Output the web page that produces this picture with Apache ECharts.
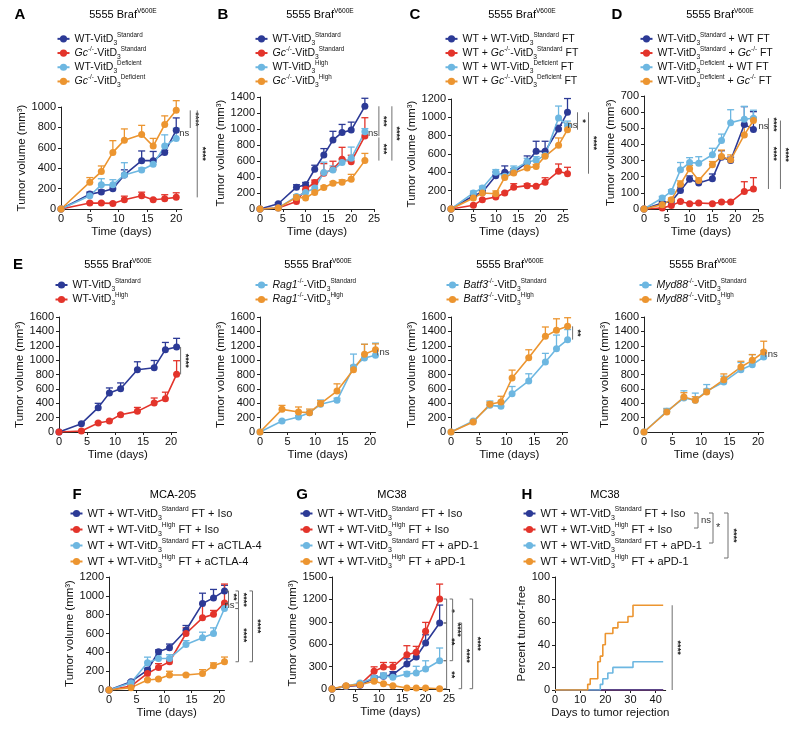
<!DOCTYPE html>
<html><head><meta charset="utf-8">
<script src="https://cdn.jsdelivr.net/npm/echarts@6/dist/echarts.min.js"></script>
<style>html,body{margin:0;padding:0;background:#fff}#c{width:800px;height:731px}</style>
</head><body><div id="c"></div>
<script>
// ---------- DATA ----------
// Panel A
const aDays = [0,5,7,9,11,14,16,18,20];
const aWtStd = [0,146,166,198,334,474,474,555,773];
const aWtStdErr = [0,20,20,30,50,95,90,20,120];
const aGcStd = [0,58,58,55,91,130,91,100,114];
const aGcStdErr = [0,8,8,8,35,35,8,40,45];
const aWtDef = [0,130,237,237,334,383,438,617,692];
const aWtDefErr = [0,15,60,50,120,20,20,110,100];
const aGcDef = [0,263,367,555,675,730,617,828,967];
const aGcDefErr = [0,45,55,115,110,90,75,85,95];
// Panel B
const bDays = [0,4,8,10,12,14,16,18,20,23];
const bWtStd = [0,66,273,302,497,675,861,957,986,1284];
const bWtStdErr = [0,10,30,30,50,80,110,100,100,100];
const bGcStd = [0,12,95,248,331,447,497,621,592,911];
const bGcStdErr = [0,5,20,40,30,120,100,150,80,230];
const bWtHigh = [0,12,157,207,261,456,489,580,634,965];
const bWtHighErr = [0,5,20,30,40,130,50,50,140,40];
const bGcHigh = [0,12,145,137,207,269,323,335,373,605];
const bGcHighErr = [0,5,30,20,20,20,20,30,60,90];
// Panel C
const cDays = [0,5,7,10,12,14,17,19,21,24,26];
const cWtStd = [0,145,182,364,400,400,509,629,629,873,1055];
const cWtStdErr = [0,20,20,40,70,40,70,110,110,40,150];
const cGcStd = [0,40,102,131,175,236,255,247,291,411,385];
const cGcStdErr = [0,8,8,10,10,40,20,10,50,80,70];
const cWtDef = [0,175,229,400,356,429,513,531,585,993,909];
const cWtDefErr = [0,20,20,30,30,40,40,40,40,130,50];
const cGcDef = [0,120,175,167,345,393,447,465,575,695,865];
const cGcDefErr = [0,10,10,30,20,20,20,20,20,80,70];
// Panel D
const dDays = [0,4,6,8,10,12,15,17,19,22,24];
const dStdWt = [0,37,47,115,185,161,187,321,301,524,493];
const dStdWtErr = [0,10,10,20,20,15,30,40,20,110,110];
const dStdGc = [0,6,21,47,33,37,33,43,43,109,124];
const dStdGcErr = [0,3,3,5,5,5,5,5,5,60,70];
const dDefWt = [0,68,109,243,288,284,336,424,535,556,562];
const dDefWtErr = [0,10,10,45,30,40,40,40,80,80,50];
const dDefGc = [0,27,58,154,249,177,274,325,305,459,548];
const dDefGcErr = [0,10,10,20,20,15,20,40,30,60,20];
// Panel E (four sub-panels)
const eDays = [0,4,7,9,11,14,17,19,21];
const e1WtStd = [0,116,339,543,603,867,895,1146,1183];
const e1WtStdErr = [0,10,60,70,80,110,100,100,120];
const e1WtHigh = [0,14,125,153,241,287,403,464,802];
const e1WtHighErr = [0,5,10,10,15,55,70,90,190];
const e2Std = [0,153,209,269,385,441,904,1030,1067];
const e2StdErr = [0,5,20,20,60,30,180,190,170];
const e2High = [0,315,278,269,394,570,867,1081,1146];
const e2HighErr = [0,55,70,50,40,100,60,140,80];
const e3Std = [0,153,371,357,533,710,974,1159,1285];
const e3StdErr = [0,10,60,60,100,100,120,190,140];
const e3High = [0,139,385,417,751,1034,1331,1415,1470];
const e3HighErr = [0,10,30,80,110,110,130,160,120];
const e4Std = [0,288,473,441,570,696,867,937,1043];
const e4StdErr = [0,40,100,100,90,80,100,140,90];
const e4High = [0,278,487,441,557,728,904,997,1113];
const e4HighErr = [0,40,60,50,40,80,80,80,150];
// Panel F
const fDays = [0,4,7,9,11,14,17,19,21];
const fStdIso = [0,88,212,406,448,635,918,978,1052];
const fStdIsoErr = [0,10,20,20,40,50,110,90,60];
const fHighIso = [0,42,176,240,300,600,766,805,925];
const fHighIsoErr = [0,10,30,40,20,60,150,40,200];
const fStdCtla = [0,78,289,335,335,484,554,600,865];
const fStdCtlaErr = [0,10,60,40,40,40,60,60,40];
const fHighCtla = [0,25,106,116,159,159,176,258,300];
const fHighCtlaErr = [0,10,10,10,40,10,40,30,50];
// Panel G
const gDays = [0,3,6,9,11,13,16,18,20,23];
const gStdIso = [0,36,49,147,170,192,335,429,616,884];
const gStdIsoErr = [0,5,10,30,40,40,70,70,110,240];
const gHighIso = [0,36,58,237,295,295,460,491,772,1205];
const gHighIsoErr = [0,5,10,60,60,60,120,80,120,200];
const gStdPd1 = [0,36,80,147,179,156,201,214,268,379];
const gStdPd1Err = [0,5,10,30,30,30,30,90,110,170];
const gHighPd1 = [0,45,58,103,71,45,13,13,13,4];
const gHighPd1Err = [0,5,5,10,10,5,3,3,3,3];
// Panel H (percent tumor-free, step curves)
const hStdIsoDays = [0,43];
const hStdIsoPct = [0,0];
const hHighIsoDays = [0,43];
const hHighIsoPct = [0,0];
const hStdPd1Days = [0,18,19,21,23,31,43];
const hStdPd1Pct = [0,5,10,15,20,25,25];
const hHighPd1Days = [0,13,14,17,18,19,20,23,25,29,31,43];
const hHighPd1Pct = [0,5,10,25,30,40,50,55,60,65,75,75];
// tick labels
const xTicks20 = [0,5,10,15,20];
const xTicks25 = [0,5,10,15,20,25];
const xTicks40 = [0,10,20,30,40];
// significance annotations: [x, yTop, yBottom, label]
const aSig = [[20,967,794,'****'],[20,745,745,'ns'],[20,967,114,'****']];
const bSig = [[23,1284,911,'***'],[23,895,605,'***'],[23,1284,605,'****'],[23,945,945,'ns']];
const cSig = [[26,1055,865,'*'],[26,916,916,'ns'],[26,1055,385,'****']];
const dSig = [[24,562,486,'****'],[24,512,512,'ns'],[24,560,124,'****'],[24,548,124,'****']];
const e1Sig = [[21,1183,802,'****']];
const e2Sig = [[21,1146,1067,'ns']];
const e3Sig = [[21,1470,1285,'**']];
const e4Sig = [[21,1113,1043,'ns']];
const fSig = [[21,1052,925,'**'],[21,925,865,'ns'],[21,1052,865,'****'],[21,865,300,'****'],[21,1052,300,'****']];
const gSig = [[23,1205,884,'*'],[23,1205,379,'****'],[23,884,379,'**'],[23,379,4,'**'],[23,884,4,'****'],[23,1205,4,'****']];
const hSig = [[43,75,0,'****']];
// text
const WTV = q => `{n|WT-VitD}{s|3}{p|${q}}`;
const KOV = (g, q) => `{i|${g}}{p|-/-}{n|-VitD}{s|3}{p|${q}}`;
const aLabels = [WTV('Standard'), KOV('Gc','Standard'), WTV('Deficient'), KOV('Gc','Deficient')];
const bLabels = [WTV('Standard'), KOV('Gc','Standard'), WTV('High'), KOV('Gc','High')];
const cLabels = ['{n|WT + }'+WTV('Standard')+'{n| FT}', '{n|WT + }'+KOV('Gc','Standard')+'{n| FT}', '{n|WT + }'+WTV('Deficient')+'{n| FT}', '{n|WT + }'+KOV('Gc','Deficient')+'{n| FT}'];
const dLabels = [WTV('Standard')+'{n| + WT FT}', WTV('Standard')+'{n| + }{i|Gc}{p|-/-}{n| FT}', WTV('Deficient')+'{n| + WT FT}', WTV('Deficient')+'{n| + }{i|Gc}{p|-/-}{n| FT}'];
const e1Labels = [WTV('Standard'), WTV('High')];
const e2Labels = [KOV('Rag1','Standard'), KOV('Rag1','High')];
const e3Labels = [KOV('Batf3','Standard'), KOV('Batf3','High')];
const e4Labels = [KOV('Myd88','Standard'), KOV('Myd88','High')];
const fLabels = ['{n|WT + }'+WTV('Standard')+'{n| FT + Iso}', '{n|WT + }'+WTV('High')+'{n| FT + Iso}', '{n|WT + }'+WTV('Standard')+'{n| FT + aCTLA-4}', '{n|WT + }'+WTV('High')+'{n| FT + aCTLA-4}'];
const gLabels = ['{n|WT + }'+WTV('Standard')+'{n| FT + Iso}', '{n|WT + }'+WTV('High')+'{n| FT + Iso}', '{n|WT + }'+WTV('Standard')+'{n| FT + aPD-1}', '{n|WT + }'+WTV('High')+'{n| FT + aPD-1}'];
const hLabels = gLabels;
const BRAF = '{t|5555 Braf}{p|V600E}';

// ---------- STYLE / LAYOUT ----------
const FONT = "'Liberation Sans', Arial, Helvetica, sans-serif";
const COL = {dark:'#2c3a96', red:'#e3342b', light:'#6db7e1', orange:'#ec9530'};
const AX = '#222';
const VOL = 'Tumor volume (mm³)';
function rich(fs, lh) {
  return {
    n:{fontSize:fs, fontFamily:FONT, color:'#111', lineHeight:lh},
    i:{fontSize:fs, fontFamily:FONT, color:'#111', fontStyle:'italic', lineHeight:lh},
    s:{fontSize:fs*0.64, fontFamily:FONT, color:'#111', lineHeight:6, height:6, verticalAlign:'bottom'},
    p:{fontSize:fs*0.6, fontFamily:FONT, color:'#111', lineHeight:6, height:6, verticalAlign:'top'},
    t:{fontSize:fs, fontFamily:FONT, color:'#111', lineHeight:lh}
  };
}
const PANELS = [
  {id:'A', g:[61,107,121,102], xMax:21, xt:xTicks20, yMax:1000, yInt:200, yGap:30, yName:VOL, xName:'Time (days)', lg:[56.5,32,13.7,10.5], labels:aLabels,
   ser:[[aDays,aWtStd,aWtStdErr,'dark'],[aDays,aGcStd,aGcStdErr,'red'],[aDays,aWtDef,aWtDefErr,'light'],[aDays,aGcDef,aGcDefErr,'orange']],
   sig:aSig, sigDx:[14,3,21], sigMode:[0,2,0]},
  {id:'B', g:[260,97,114,112], xMax:25, xt:xTicks25, yMax:1400, yInt:200, yGap:29, yName:VOL, xName:'Time (days)', lg:[254.5,32,13.7,10.5], labels:bLabels,
   ser:[[bDays,bWtStd,bWtStdErr,'dark'],[bDays,bGcStd,bGcStdErr,'red'],[bDays,bWtHigh,bWtHighErr,'light'],[bDays,bGcHigh,bGcHighErr,'orange']],
   sig:bSig, sigDx:[14,14,27,3], sigMode:[0,0,0,2]},
  {id:'C', g:[451,99,116.5,110], xMax:26, xt:xTicks25, yMax:1200, yInt:200, yGap:30, yName:VOL, xName:'Time (days)', lg:[444.5,32,13.7,10.5], labels:cLabels,
   ser:[[cDays,cWtStd,cWtStdErr,'dark'],[cDays,cGcStd,cGcStdErr,'red'],[cDays,cWtDef,cWtDefErr,'light'],[cDays,cGcDef,cGcDefErr,'orange']],
   sig:cSig, sigDx:[10,0,21], sigMode:[0,2,0]},
  {id:'D', g:[644,96,114,113], xMax:25, xt:xTicks25, yMax:700, yInt:100, yGap:25, yName:VOL, xName:'Time (days)', lg:[639.5,32,13.7,10.5], labels:dLabels,
   ser:[[dDays,dStdWt,dStdWtErr,'dark'],[dDays,dStdGc,dStdGcErr,'red'],[dDays,dDefWt,dDefWtErr,'light'],[dDays,dDefGc,dDefGcErr,'orange']],
   sig:dSig, sigDx:[15,5,15,27], sigMode:[0,2,0,0]},
  {id:'E1', g:[59,317,117.6,115], xMax:21, xt:xTicks20, yMax:1600, yInt:200, yGap:27, yName:VOL, xName:'Time (days)', lg:[54.5,278,14,10.5], labels:e1Labels,
   ser:[[eDays,e1WtStd,e1WtStdErr,'dark'],[eDays,e1WtHigh,e1WtHighErr,'red']], sig:e1Sig, sigDx:[4], sigMode:[0]},
  {id:'E2', g:[260,317,115.5,115], xMax:21, xt:xTicks20, yMax:1600, yInt:200, yGap:31, yName:VOL, xName:'Time (days)', lg:[254.5,278,14,10.5], labels:e2Labels,
   ser:[[eDays,e2Std,e2StdErr,'light'],[eDays,e2High,e2HighErr,'orange']], sig:e2Sig, sigDx:[2], sigMode:[3]},
  {id:'E3', g:[451,317,116.6,115], xMax:21, xt:xTicks20, yMax:1600, yInt:200, yGap:32, yName:VOL, xName:'Time (days)', lg:[445.5,278,14,10.5], labels:e3Labels,
   ser:[[eDays,e3Std,e3StdErr,'light'],[eDays,e3High,e3HighErr,'orange']], sig:e3Sig, sigDx:[5], sigMode:[0]},
  {id:'E4', g:[644,317,119.7,115], xMax:21, xt:xTicks20, yMax:1600, yInt:200, yGap:26, yName:VOL, xName:'Time (days)', lg:[638.5,278,14,10.5], labels:e4Labels,
   ser:[[eDays,e4Std,e4StdErr,'light'],[eDays,e4High,e4HighErr,'orange']], sig:e4Sig, sigDx:[2], sigMode:[3]},
  {id:'F', g:[109,577,115.5,113], xMax:21, xt:xTicks20, yMax:1200, yInt:200, yGap:30, yName:VOL, xName:'Time (days)', lg:[69.5,505.5,15,11], labels:fLabels,
   ser:[[fDays,fStdIso,fStdIsoErr,'dark'],[fDays,fHighIso,fHighIsoErr,'red'],[fDays,fStdCtla,fStdCtlaErr,'light'],[fDays,fHighCtla,fHighCtlaErr,'orange']],
   sig:fSig, sigDx:[4,14,14,14,28], sigMode:[1,4,1,1,1]},
  {id:'G', g:[332,577,117,112], xMax:25, xt:xTicks25, yMax:1500, yInt:300, yGap:29, yName:VOL, xName:'Time (days)', lg:[299.5,505.5,15,11], labels:gLabels,
   ser:[[gDays,gStdIso,gStdIsoErr,'dark'],[gDays,gHighIso,gHighIsoErr,'red'],[gDays,gStdPd1,gStdPd1Err,'light'],[gDays,gHighPd1,gHighPd1Err,'orange']],
   sig:gSig, sigDx:[7,13,7,7,22,33], sigMode:[1,1,1,1,1,1]},
  {id:'H', g:[555,577,110.7,113], xMax:44, xt:xTicks40, yMax:100, yInt:20, yGap:22, yName:'Percent tumor-free', xName:'Days to tumor rejection', lg:[522.5,505.5,15,11], labels:hLabels,
   step:[[hStdIsoDays,hStdIsoPct,'dark'],[hHighIsoDays,hHighIsoPct,'red'],[hStdPd1Days,hStdPd1Pct,'light'],[hHighPd1Days,hHighPd1Pct,'orange']],
   drawOrder:[1,0,2,3], sig:hSig, sigDx:[9], sigMode:[0]}
];

// ---------- RENDER HELPERS ----------
function errRender(color) {
  return function (params, api) {
    const x = api.value(0), y = api.value(1), e = api.value(2);
    if (!(e > 0)) return {type:'group', children:[]};
    const a = api.coord([x, y]), b = api.coord([x, y + e]);
    return {type:'group', children:[
      {type:'line', shape:{x1:a[0], y1:a[1], x2:b[0], y2:b[1]}, style:{stroke:color, lineWidth:1.3}},
      {type:'line', shape:{x1:b[0]-3.5, y1:b[1], x2:b[0]+3.5, y2:b[1]}, style:{stroke:color, lineWidth:1.3}}
    ]};
  };
}
function sigRender(list, dxs, modes) {
  return function (params, api) {
    const s = list[params.dataIndex];
    const dx = dxs[params.dataIndex], mode = modes[params.dataIndex];
    const p1 = api.coord([s[0], s[1]]), p2 = api.coord([s[0], s[2]]);
    const lx = p1[0] + dx, my = (p1[1] + p2[1]) / 2;
    const st = {stroke:'#707070', lineWidth:1};
    const ch = [];
    if (mode !== 2) {
      ch.push({type:'line', shape:{x1:lx, y1:p1[1], x2:lx, y2:p2[1]}, style:st});
      if (mode === 1 || mode === 4) {
        ch.push({type:'line', shape:{x1:lx-3, y1:p1[1], x2:lx, y2:p1[1]}, style:st});
        ch.push({type:'line', shape:{x1:lx-3, y1:p2[1], x2:lx, y2:p2[1]}, style:st});
      }
    }
    if (mode === 0 || mode === 1) {
      ch.push({type:'text', x:lx + 5, y:my, rotation:-Math.PI/2,
        style:{text:s[3], align:'center', verticalAlign:'middle', fontSize:9, fontWeight:'bold', fontFamily:FONT, fill:'#222'}});
    } else if (mode === 2 || mode === 3) {
      ch.push({type:'text', x:lx + (mode === 3 ? 2 : 0), y:my,
        style:{text:s[3], align:'left', verticalAlign:'middle', fontSize:9.5, fontFamily:FONT, fill:'#333'}});
    } else if (mode === 4) {
      ch.push({type:'text', x:lx - 4, y:my,
        style:{text:s[3], align:'right', verticalAlign:'middle', fontSize:9.5, fontFamily:FONT, fill:'#333'}});
    }
    return {type:'group', children:ch};
  };
}

// ---------- OPTION ----------
const option = {animation:false, backgroundColor:'#fff', grid:[], xAxis:[], yAxis:[], series:[], legend:[], graphic:[]};
const labText = {};
const plain = v => String(v);
PANELS.forEach((p, k) => {
  option.grid.push({left:p.g[0], top:p.g[1], width:p.g[2], height:p.g[3], containLabel:false, outerBoundsMode:'none'});
  option.xAxis.push({gridIndex:k, type:'value', min:0, max:p.xMax,
    name:p.xName, nameLocation:'middle', nameGap:17, nameTextStyle:{fontSize:11.5, fontFamily:FONT, color:'#111'},
    axisLine:{show:true, onZero:false, lineStyle:{color:AX, width:1}},
    axisTick:{show:true, length:3, lineStyle:{color:AX}, customValues:p.xt},
    axisLabel:{customValues:p.xt, formatter:plain, fontSize:11, fontFamily:FONT, color:'#111', margin:4},
    splitLine:{show:false}});
  option.yAxis.push({gridIndex:k, type:'value', min:0, max:p.yMax, interval:p.yInt,
    name:p.yName, nameLocation:'middle', nameGap:p.yGap, nameTextStyle:{fontSize:11.5, fontFamily:FONT, color:'#111'},
    axisLine:{show:true, onZero:false, lineStyle:{color:AX, width:1}},
    axisTick:{show:true, length:3, lineStyle:{color:AX}},
    axisLabel:{formatter:plain, fontSize:11, fontFamily:FONT, color:'#111', margin:5},
    splitLine:{show:false}});
  const names = [];
  if (p.ser) {
    p.ser.forEach((s, j) => {
      const nm = p.id + '_' + j; names.push(nm); labText[nm] = p.labels[j];
      const color = COL[s[3]];
      option.series.push({type:'custom', xAxisIndex:k, yAxisIndex:k, z:2, silent:true, clip:false,
        renderItem:errRender(color), encode:{x:0, y:1},
        data:s[0].map((d, i) => [d, s[1][i], s[2][i]])});
    });
    p.ser.forEach((s, j) => {
      const color = COL[s[3]];
      option.series.push({type:'line', name:p.id + '_' + j, xAxisIndex:k, yAxisIndex:k, z:3,
        symbol:'circle', symbolSize:7, showSymbol:true, color:color,
        itemStyle:{color:color}, lineStyle:{color:color, width:1.6},
        data:s[0].map((d, i) => [d, s[1][i]])});
    });
  } else {
    p.step.forEach((s, j) => { const nm = p.id + '_' + j; names.push(nm); labText[nm] = p.labels[j]; });
    p.drawOrder.forEach(j => {
      const s = p.step[j]; const color = COL[s[2]];
      option.series.push({type:'line', name:p.id + '_' + j, xAxisIndex:k, yAxisIndex:k, z:3,
        step:'end', symbol:'circle', symbolSize:7, showSymbol:false, color:color,
        itemStyle:{color:color}, lineStyle:{color:color, width:1.6},
        data:s[0].map((d, i) => [d, s[1][i]])});
    });
  }
  option.series.push({type:'custom', xAxisIndex:k, yAxisIndex:k, z:4, silent:true, clip:false,
    renderItem:sigRender(p.sig, p.sigDx, p.sigMode), encode:{x:0, y:1},
    data:p.sig.map(s => [s[0], s[1]])});
  option.legend.push({data:names, orient:'vertical', left:p.lg[0], top:p.lg[1], padding:0, itemGap:0,
    itemWidth:12, itemHeight:9, selectedMode:false,
    formatter:n => labText[n], textStyle:{rich:rich(p.lg[3], p.lg[2])}});
});

// panel letters and titles
const LETTERS = [['A',20,15],['B',223,15],['C',415,15],['D',617,15],['E',18,265],['F',77,495],['G',302,495],['H',527,495]];
LETTERS.forEach(l => option.graphic.push({type:'text', x:l[1], y:l[2], silent:true,
  style:{text:l[0], align:'center', verticalAlign:'middle', fontSize:15, fontWeight:'bold', fontFamily:FONT, fill:'#000'}}));
const TITLES = [[BRAF,123,15],[BRAF,320,15],[BRAF,522,15],[BRAF,720,15],[BRAF,118,265],[BRAF,318,265],[BRAF,510,265],[BRAF,703,265],
  ['{t|MCA-205}',173,495],['{t|MC38}',392,495],['{t|MC38}',605,495]];
TITLES.forEach(t => option.graphic.push({type:'text', x:t[1], y:t[2], silent:true,
  style:{text:t[0], rich:rich(11,14), align:'center', verticalAlign:'middle'}}));
// H legend comparison brackets
const hb = [[698,513,528,'ns',0],[713,513,543,'*',0],[728,513,558,'****',1]];
hb.forEach(b => {
  const st = {stroke:'#707070', lineWidth:1};
  option.graphic.push({type:'line', silent:true, shape:{x1:b[0], y1:b[1], x2:b[0], y2:b[2]}, style:st});
  option.graphic.push({type:'line', silent:true, shape:{x1:b[0]-4, y1:b[1], x2:b[0], y2:b[1]}, style:st});
  option.graphic.push({type:'line', silent:true, shape:{x1:b[0]-4, y1:b[2], x2:b[0], y2:b[2]}, style:st});
  const my = (b[1] + b[2]) / 2;
  if (b[4]) option.graphic.push({type:'text', silent:true, x:b[0]+5, y:my, rotation:-Math.PI/2,
    style:{text:b[3], align:'center', verticalAlign:'middle', fontSize:9, fontWeight:'bold', fontFamily:FONT, fill:'#222'}});
  else option.graphic.push({type:'text', silent:true, x:b[0]+3, y:my,
    style:{text:b[3], align:'left', verticalAlign:'middle', fontSize:b[3]==='*'?11:9.5, fontFamily:FONT, fill:'#333'}});
});

const chart = echarts.init(document.getElementById('c'), null, {renderer:'canvas'});
chart.setOption(option);
</script></body></html>
